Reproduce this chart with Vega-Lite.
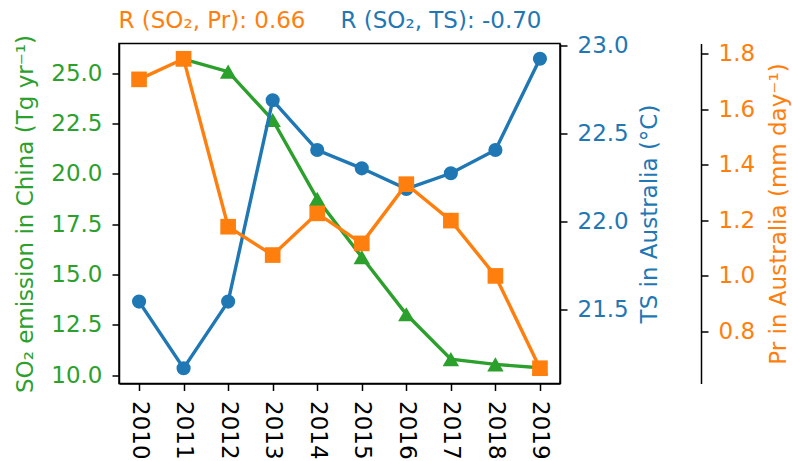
{
  "$schema": "https://vega.github.io/schema/vega-lite/v6.json",
  "width": 441,
  "height": 340,
  "autosize": {"type": "none"},
  "padding": {"left": 119, "top": 43.5, "right": 232, "bottom": 77.5},
  "background": "white",
  "config": {
    "font": "DejaVu Sans",
    "view": {"stroke": "black", "strokeWidth": 1.5},
    "axis": {
      "labelFont": "DejaVu Sans",
      "titleFont": "DejaVu Sans",
      "labelFontSize": 23,
      "titleFontSize": 23,
      "titleFontWeight": "normal",
      "tickColor": "black",
      "domainColor": "black",
      "tickSize": 7,
      "tickWidth": 1.5,
      "domainWidth": 1.5,
      "grid": false
    }
  },
  "data": {
    "values": [
      {"year": 2010, "so2": null, "ts": 21.544, "pr": 1.707},
      {"year": 2011, "so2": 25.69, "ts": 21.165, "pr": 1.781},
      {"year": 2012, "so2": 25.07, "ts": 21.544, "pr": 1.177},
      {"year": 2013, "so2": 22.67, "ts": 22.689, "pr": 1.075},
      {"year": 2014, "so2": 18.75, "ts": 22.406, "pr": 1.225},
      {"year": 2015, "so2": 15.86, "ts": 22.302, "pr": 1.117},
      {"year": 2016, "so2": 13.02, "ts": 22.185, "pr": 1.33},
      {"year": 2017, "so2": 10.79, "ts": 22.274, "pr": 1.199},
      {"year": 2018, "so2": 10.53, "ts": 22.406, "pr": 1.0},
      {"year": 2019, "so2": 10.36, "ts": 22.925, "pr": 0.668}
    ]
  },
  "layer": [
    {
      "transform": [{"filter": "datum.so2 != null"}],
      "mark": {"type": "line", "color": "#2ca02c", "strokeWidth": 3.4,
        "point": {"shape": "triangle-up", "size": 270, "filled": true, "opacity": 1, "color": "#2ca02c"}},
      "encoding": {
        "x": {"field": "year", "type": "quantitative",
          "scale": {"domain": [2009.55, 2019.45], "nice": false, "zero": false},
          "axis": {"values": [2010, 2011, 2012, 2013, 2014, 2015, 2016, 2017, 2018, 2019], "format": "d",
            "labelAngle": 90, "labelColor": "black", "title": null, "labelPadding": 10}},
        "y": {"field": "so2", "type": "quantitative",
          "scale": {"domain": [9.58, 26.47], "nice": false, "zero": false},
          "axis": {"orient": "left", "values": [10, 12.5, 15, 17.5, 20, 22.5, 25], "format": ".1f",
            "labelColor": "#2ca02c", "titleColor": "#2ca02c",
            "title": "SO₂ emission in China (Tg yr⁻¹)", "labelPadding": 10, "titlePadding": 13}}
      }
    },
    {
      "mark": {"type": "line", "color": "#1f77b4", "strokeWidth": 3.4,
        "point": {"shape": "circle", "size": 200, "filled": true, "opacity": 1, "color": "#1f77b4"}},
      "encoding": {
        "x": {"field": "year", "type": "quantitative",
          "scale": {"domain": [2009.55, 2019.45], "nice": false, "zero": false},
          "axis": {"orient": "top", "labels": false, "ticks": false, "domain": false,
            "title": "R (SO₂, TS): -0.70", "titleColor": "#1f77b4",
            "titleX": 221, "titleY": -16.5, "titleAlign": "left", "titleAnchor": "start", "titleBaseline": "alphabetic"}},
        "y": {"field": "ts", "type": "quantitative",
          "scale": {"domain": [21.078, 23.012], "nice": false, "zero": false},
          "axis": {"orient": "right", "values": [21.5, 22.0, 22.5, 23.0], "format": ".1f",
            "labelColor": "#1f77b4", "titleColor": "#1f77b4",
            "title": "TS in Australia (°C)", "titleAngle": 270, "titleBaseline": "top",
            "labelPadding": 10, "titlePadding": 10}}
      }
    },
    {
      "mark": {"type": "line", "color": "#ff7f0e", "strokeWidth": 3.4,
        "point": {"shape": "square", "size": 245, "filled": true, "opacity": 1, "color": "#ff7f0e"}},
      "encoding": {
        "x": {"field": "year", "type": "quantitative",
          "scale": {"domain": [2009.55, 2019.45], "nice": false, "zero": false},
          "axis": {"orient": "top", "labels": false, "ticks": false, "domain": false,
            "title": "R (SO₂, Pr): 0.66", "titleColor": "#ff7f0e",
            "titleX": -1, "titleY": -16.5, "titleAlign": "left", "titleAnchor": "start", "titleBaseline": "alphabetic"}},
        "y": {"field": "pr", "type": "quantitative",
          "scale": {"domain": [0.613, 1.836], "nice": false, "zero": false},
          "axis": {"orient": "right", "offset": 141, "values": [0.8, 1.0, 1.2, 1.4, 1.6, 1.8], "format": ".1f",
            "labelColor": "#ff7f0e", "titleColor": "#ff7f0e",
            "title": "Pr in Australia (mm day⁻¹)", "titleAngle": 270, "titleBaseline": "top",
            "labelPadding": 10, "titlePadding": 13}}
      }
    }
  ],
  "resolve": {"scale": {"y": "independent"}, "axis": {"x": "independent", "y": "independent"}}
}
